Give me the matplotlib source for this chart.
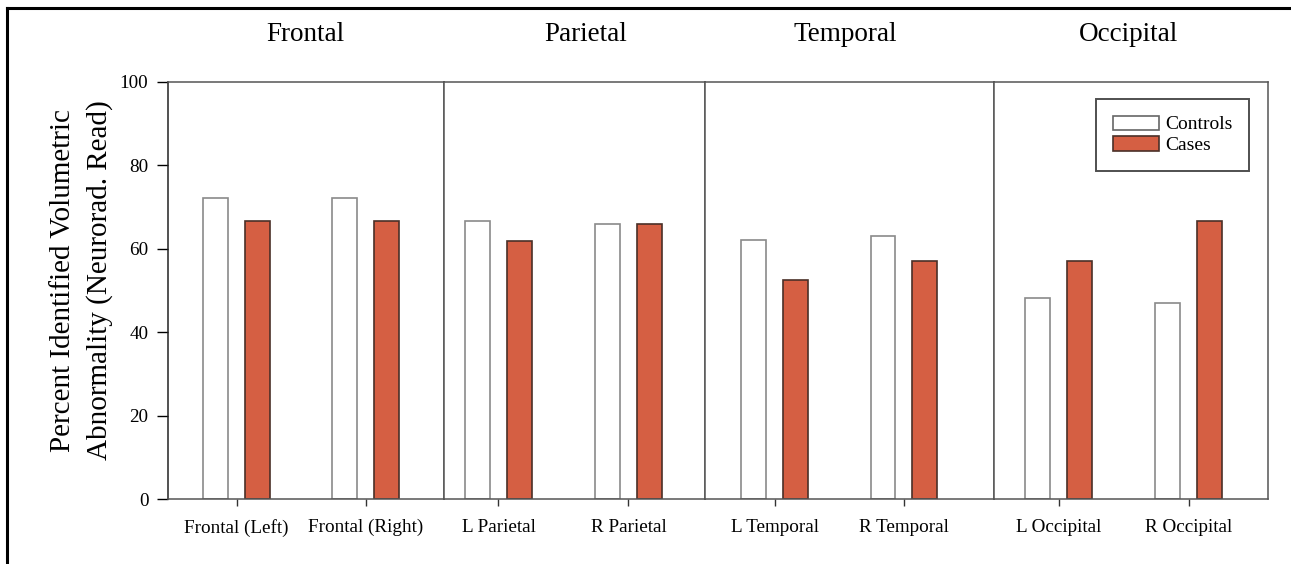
import matplotlib
matplotlib.use("Agg")
import matplotlib.pyplot as plt
from matplotlib.patches import Patch
from matplotlib.lines import Line2D
import numpy as np

# data
regions = ["Frontal", "Parietal", "Temporal", "Occipital"]
tick_labels = [["Frontal (Left)", "Frontal (Right)"],
               ["L Parietal", "R Parietal"],
               ["L Temporal", "R Temporal"],
               ["L Occipital", "R Occipital"]]
controls = [[72.1, 72.1], [66.7, 65.9], [62.1, 63.0], [48.1, 47.1]]
cases = [[66.6, 66.6], [61.9, 65.9], [52.4, 57.1], [57.1, 66.7]]

# panel layout (measured from reference)
panel_widths = [276, 262, 289, 274]
panel_xlims = [(-0.534, 1.603), (-0.423, 1.592), (-0.536, 1.698), (-0.496, 1.609)]
title_x = [0.5, 0.542, 0.485, 0.49]

plt.rcParams['font.family'] = ['Liberation Serif', 'DejaVu Serif']

W, H = 1291, 564
fig = plt.figure(figsize=(W / 100, H / 100), dpi=100)
gs = fig.add_gridspec(1, 4, width_ratios=panel_widths, wspace=0,
                      left=167.7 / W, right=1268 / W,
                      top=1 - 81.7 / H, bottom=1 - 499.3 / H)

case_color = '#D55F43'
spine_color = '#555555'
bar_w = 0.193
off = 0.162

for i in range(4):
    ax = fig.add_subplot(gs[0, i])
    x = np.arange(2)
    ax.bar(x - off, controls[i], bar_w, color='white', edgecolor='#8a8a8a', linewidth=1.2)
    ax.bar(x + off, cases[i], bar_w, color=case_color, edgecolor='#4a3028', linewidth=1.2)
    ax.set_xlim(*panel_xlims[i])
    ax.set_ylim(0, 100)
    ax.set_xticks(x)
    ax.set_xticklabels(tick_labels[i], fontsize=13.8)
    ax.tick_params(axis='x', direction='out', length=5, width=1, color='#333333', pad=9)
    for s in ax.spines.values():
        s.set_color(spine_color)
        s.set_linewidth(1.1)
    if i == 0:
        ax.set_yticks([0, 20, 40, 60, 80, 100])
        ax.tick_params(axis='y', direction='out', length=8, width=1, labelsize=13.8, pad=6)
        ax.spines['left'].set_color('#222222')
        ax.set_ylabel("Percent Identified Volumetric\nAbnormality (Neurorad. Read)",
                      fontsize=21, labelpad=5, linespacing=1.45, y=0.525)
    else:
        ax.tick_params(axis='y', left=False, labelleft=False)
    ax.set_title(regions[i], fontsize=19.5, pad=29, x=title_x[i])

handles = [Patch(facecolor='white', edgecolor='#666666', linewidth=1.2, label='Controls'),
           Patch(facecolor=case_color, edgecolor='#4a3028', linewidth=1.2, label='Cases')]
leg = fig.legend(handles=handles, loc='upper right',
                 bbox_to_anchor=(1249 / W, 1 - 99 / H), bbox_transform=fig.transFigure,
                 fontsize=14, frameon=True, fancybox=False, borderaxespad=0,
                 handlelength=2.4, handleheight=0.75, labelspacing=0.15,
                 borderpad=0.85, handletextpad=0.3)
leg.get_frame().set_edgecolor('#222222')
leg.get_frame().set_linewidth(1.4)

# page border (left and top edges)
fig.add_artist(Line2D([7 / W, 7 / W], [0, 1 - 8 / H], transform=fig.transFigure,
                      color='black', linewidth=2.2))
fig.add_artist(Line2D([7 / W, 1], [1 - 8 / H, 1 - 8 / H], transform=fig.transFigure,
                      color='black', linewidth=2.2))

fig.savefig("out.png", dpi=100)
